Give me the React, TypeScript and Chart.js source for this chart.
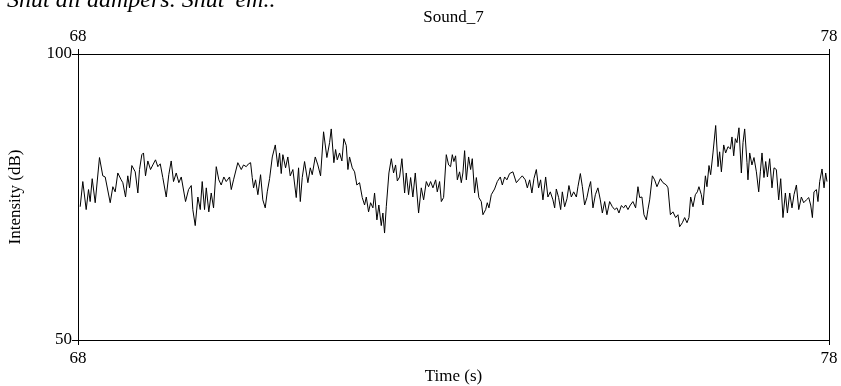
import React, { useEffect, useRef } from "react";
import { Chart, registerables } from "chart.js";

Chart.register(...registerables);

const CAPTION = "Shut all dampers. Shut 'em..";
const TITLE = "Sound_7";
const X_LABEL = "Time (s)";
const Y_LABEL = "Intensity (dB)";
const X_MIN = 68;
const X_MAX = 78;
const Y_MIN = 50;
const Y_MAX = 100;
const xTicks = [68, 78];
const yTicks = [50, 100];

const times = [
  68.029, 68.064, 68.109, 68.140, 68.162, 68.189, 68.229, 68.286, 68.330, 68.362,
  68.429, 68.464, 68.495, 68.530, 68.575, 68.597, 68.633, 68.663, 68.686, 68.717,
  68.762, 68.797, 68.819, 68.850, 68.872, 68.899, 68.930, 68.966, 68.996, 69.032,
  69.063, 69.095, 69.129, 69.175, 69.209, 69.241, 69.272, 69.308, 69.343, 69.375,
  69.432, 69.472, 69.508, 69.529, 69.561, 69.596, 69.628, 69.654, 69.685, 69.708,
  69.742, 69.774, 69.805, 69.841, 69.875, 69.907, 69.942, 69.974, 70.018, 70.041,
  70.071, 70.128, 70.174, 70.204, 70.240, 70.271, 70.298, 70.320,
  70.338, 70.364, 70.395, 70.431, 70.461, 70.493, 70.520, 70.551, 70.587, 70.627,
  70.661, 70.684, 70.706, 70.728, 70.764, 70.794, 70.826, 70.861, 70.906, 70.937,
  70.960, 70.986, 71.017, 71.061, 71.093, 71.119, 71.159, 71.194, 71.230, 71.270,
  71.314, 71.350, 71.372, 71.407, 71.430, 71.452, 71.483, 71.514, 71.540, 71.572,
  71.594, 71.616, 71.652, 71.683, 71.713, 71.749, 71.785, 71.816, 71.839, 71.869,
  71.896, 71.927, 71.949, 71.980, 72.006, 72.038, 72.060, 72.082, 72.105, 72.140,
  72.172, 72.202, 72.229, 72.252, 72.282, 72.313, 72.349, 72.371, 72.402, 72.429,
  72.459, 72.491, 72.535, 72.571, 72.602, 72.638, 72.668, 72.695, 72.726, 72.762, 72.784,
  72.815, 72.838, 72.868, 72.904, 72.935, 72.961, 72.984, 73.005, 73.028, 73.051,
  73.081, 73.104, 73.125, 73.148, 73.171, 73.201, 73.228, 73.250, 73.281, 73.304,
  73.338, 73.370, 73.392, 73.428, 73.450, 73.472, 73.503, 73.547, 73.583, 73.623,
  73.650, 73.681, 73.711, 73.747, 73.791, 73.837, 73.881, 73.916, 73.956, 73.983,
  74.014, 74.044, 74.071, 74.103, 74.133, 74.160, 74.191, 74.227, 74.257, 74.289,
  74.324, 74.347, 74.369, 74.400, 74.427, 74.449, 74.480, 74.511, 74.537, 74.569,
  74.600, 74.636, 74.657, 74.689, 74.716, 74.746, 74.777, 74.803, 74.826, 74.857,
  74.889, 74.923, 74.955, 74.982, 75.013, 75.043,
  75.079, 75.115, 75.146, 75.176, 75.203, 75.235, 75.266, 75.292, 75.323, 75.355,
  75.389, 75.425, 75.456, 75.479, 75.509, 75.536, 75.568, 75.589, 75.612, 75.648,
  75.678, 75.709, 75.755, 75.789, 75.834, 75.856, 75.888, 75.922, 75.958, 75.989,
  76.011, 76.047, 76.078, 76.109, 76.135, 76.158, 76.189, 76.220, 76.247, 76.268,
  76.300, 76.322, 76.354, 76.375, 76.402, 76.424, 76.455, 76.491, 76.522, 76.544,
  76.567, 76.598, 76.624, 76.655, 76.687, 76.708, 76.731, 76.753, 76.775, 76.801,
  76.833, 76.855, 76.877, 76.908, 76.921, 76.944, 76.974, 77.001, 77.033, 77.064,
  77.086, 77.108, 77.134, 77.157, 77.180, 77.210, 77.241, 77.268, 77.299, 77.330,
  77.357, 77.387, 77.419, 77.446, 77.477, 77.507, 77.534, 77.566, 77.597, 77.632,
  77.663, 77.699, 77.730, 77.756, 77.779, 77.800, 77.832, 77.853, 77.876, 77.907,
  77.934, 77.956, 77.973,
];

const intensityDb = [
  73.3, 77.7, 72.8, 76.3, 74.2, 78.2, 74.0, 81.9, 78.7, 78.5,
  74.0, 76.8, 75.9, 79.2, 78.0, 77.5, 75.0, 78.7, 76.6, 80.5,
  79.4, 75.7, 79.8, 82.4, 82.7, 78.7, 81.3, 79.8, 80.6, 81.5,
  80.3, 80.8, 78.4, 75.0, 78.9, 81.3, 77.7, 79.2, 77.5, 78.5,
  74.2, 76.3, 77.0, 72.8, 70.0, 75.0, 72.8, 77.7, 72.8, 76.6,
  72.4, 75.7, 73.1, 80.3, 78.0, 77.1, 78.5, 77.7, 78.5, 76.3,
  78.0, 81.0, 79.8, 80.6, 80.3, 80.8, 81.0, 78.4,
  76.6, 78.0, 75.4, 78.9, 74.5, 73.1, 75.9, 78.2, 82.0, 84.1,
  80.3, 82.7, 79.1, 82.4, 80.1, 82.0, 78.7, 79.8, 74.9, 80.1,
  74.2, 78.4, 81.2, 77.5, 80.1, 78.9, 82.0, 80.6, 78.7, 86.4,
  81.9, 84.5, 86.9, 81.0, 83.3, 81.5, 82.7, 81.3, 85.2, 84.0,
  79.8, 82.0, 80.1, 79.4, 77.1, 77.5, 74.9, 73.6, 75.0, 72.4,
  74.0, 73.1, 75.7, 71.0, 73.6, 70.0, 72.2, 68.7, 73.3, 79.2,
  81.7, 79.2, 80.6, 77.8, 78.5, 81.7, 75.7, 79.2, 75.4, 78.4,
  75.0, 79.2, 72.2, 76.6, 74.5, 77.7, 76.8, 77.7, 76.6, 78.0, 75.9,
  77.7, 74.2, 74.9, 82.4, 80.6, 80.3, 82.4, 81.2, 82.2, 78.0,
  79.4, 77.5, 79.2, 83.1, 78.0, 82.0, 79.8, 81.7, 75.7, 78.4,
  74.9, 74.2, 71.9, 72.8, 74.0, 73.1, 75.4, 76.4, 77.7, 78.5,
  77.1, 78.5, 78.0, 79.1, 79.4, 77.5, 78.2, 78.7, 78.0, 76.6,
  78.0, 75.7, 78.2, 79.8, 76.6, 78.0, 74.5, 78.5, 75.0, 75.9,
  74.5, 73.1, 76.4, 74.9, 72.8, 75.9, 73.3, 74.7, 77.0, 75.0,
  75.9, 75.0, 76.8, 79.1, 76.8, 73.6, 74.9, 76.6, 77.7, 73.1,
  75.4, 76.6, 74.5, 72.2, 74.2, 71.9,
  74.2, 73.3, 72.8, 73.1, 72.2, 73.5, 73.1, 73.6, 72.8, 73.6,
  74.2, 73.1, 76.8, 74.9, 75.0, 71.9, 71.0, 72.8, 74.5, 78.7,
  78.0, 76.8, 78.2, 77.5, 77.1, 76.6, 71.9, 72.4, 71.4, 71.9,
  69.8, 70.5, 71.4, 70.5, 71.4, 75.0, 73.3, 75.4, 75.9, 76.8,
  75.4, 73.6, 78.7, 76.8, 80.5, 78.9, 82.7, 87.5, 80.3, 82.9,
  79.4, 84.1, 82.7, 83.8, 83.4, 85.5, 82.2, 85.2, 84.5, 87.1,
  79.2, 84.5, 86.9, 81.0, 78.0, 82.7, 80.6, 81.9, 79.4, 75.9,
  79.4, 82.7, 78.4, 81.2, 78.5, 81.7, 76.6, 80.1, 79.8, 74.5,
  78.2, 71.4, 75.7, 72.2, 75.7, 73.1, 75.4, 77.1, 72.8, 75.0,
  74.0, 74.5, 74.9, 73.6, 71.4, 75.9, 76.3, 74.2, 77.7, 79.9,
  76.6, 79.2, 77.7,
];

const FONT = "'Liberation Serif', 'Times New Roman', Times, serif";
const FONT_SIZE = 17;

export default function App() {
  const ref = useRef<HTMLCanvasElement>(null);

  useEffect(() => {
    const canvas = ref.current;
    if (!canvas) return;

    const headings = {
      id: "headings",
      afterDraw(chart: any) {
        const { ctx, chartArea } = chart;
        ctx.save();
        ctx.fillStyle = "#000";
        ctx.textBaseline = "alphabetic";
        ctx.textAlign = "left";
        ctx.font = `italic 24px ${FONT}`;
        ctx.fillText(CAPTION, 7, 7);
        ctx.font = `${FONT_SIZE}px ${FONT}`;
        ctx.textAlign = "center";
        ctx.fillText(TITLE, (chartArea.left + chartArea.right) / 2, 22);
        ctx.restore();
      },
    };

    const tickFont = { family: FONT, size: FONT_SIZE };
    const gridOpts = (len: number) => ({
      display: true,
      drawOnChartArea: false,
      drawTicks: true,
      tickLength: len,
      color: "#000",
      lineWidth: 1,
    });

    const chart = new Chart(canvas, {
      type: "line",
      data: {
        datasets: [
          {
            data: times.map((t, i) => ({ x: t, y: intensityDb[i] })),
            borderColor: "#000",
            borderWidth: 1,
            pointRadius: 0,
            tension: 0,
            fill: false,
          },
        ],
      },
      options: {
        responsive: false,
        maintainAspectRatio: false,
        animation: false,
        layout: { padding: 0 },
        plugins: {
          legend: { display: false },
          tooltip: { enabled: false },
          title: { display: false },
        },
        scales: {
          x: {
            type: "linear",
            position: "bottom",
            min: X_MIN,
            max: X_MAX,
            afterBuildTicks: (s: any) => {
              s.ticks = xTicks.map((v) => ({ value: v }));
            },
            afterFit: (s: any) => {
              s.height = 46;
            },
            grid: gridOpts(5),
            border: { display: true, color: "#000", width: 1 },
            ticks: { color: "#000", font: tickFont, padding: 3, maxRotation: 0, autoSkip: false },
            title: {
              display: true,
              text: X_LABEL,
              color: "#000",
              font: { ...tickFont, lineHeight: 1 },
              padding: { top: 0, bottom: 1 },
            },
          },
          xTop: {
            type: "linear",
            position: "top",
            min: X_MIN,
            max: X_MAX,
            afterBuildTicks: (s: any) => {
              s.ticks = xTicks.map((v) => ({ value: v }));
            },
            afterFit: (s: any) => {
              s.height = 54;
            },
            grid: gridOpts(5),
            border: { display: true, color: "#000", width: 1 },
            ticks: { color: "#000", font: tickFont, padding: 2, maxRotation: 0, autoSkip: false },
          },
          y: {
            type: "linear",
            position: "left",
            min: Y_MIN,
            max: Y_MAX,
            afterBuildTicks: (s: any) => {
              s.ticks = yTicks.map((v) => ({ value: v }));
            },
            afterFit: (s: any) => {
              s.width = 78;
            },
            grid: gridOpts(6),
            border: { display: true, color: "#000", width: 1 },
            ticks: { color: "#000", font: tickFont, padding: 0, autoSkip: false },
            title: {
              display: true,
              text: Y_LABEL,
              color: "#000",
              font: tickFont,
              padding: { top: 5.5, bottom: 0 },
            },
          },
          yRight: {
            type: "linear",
            position: "right",
            min: Y_MIN,
            max: Y_MAX,
            afterFit: (s: any) => {
              s.width = 12;
            },
            grid: { display: false },
            border: { display: true, color: "#000", width: 1 },
            ticks: { display: false },
          },
        },
      } as any,
      plugins: [headings],
    });

    return () => chart.destroy();
  }, []);

  return (
    <div
      style={{
        position: "fixed",
        left: 0,
        top: 0,
        width: 841,
        height: 386,
        background: "#fff",
      }}
    >
      <canvas ref={ref} width={841} height={386} style={{ display: "block" }} />
    </div>
  );
}
